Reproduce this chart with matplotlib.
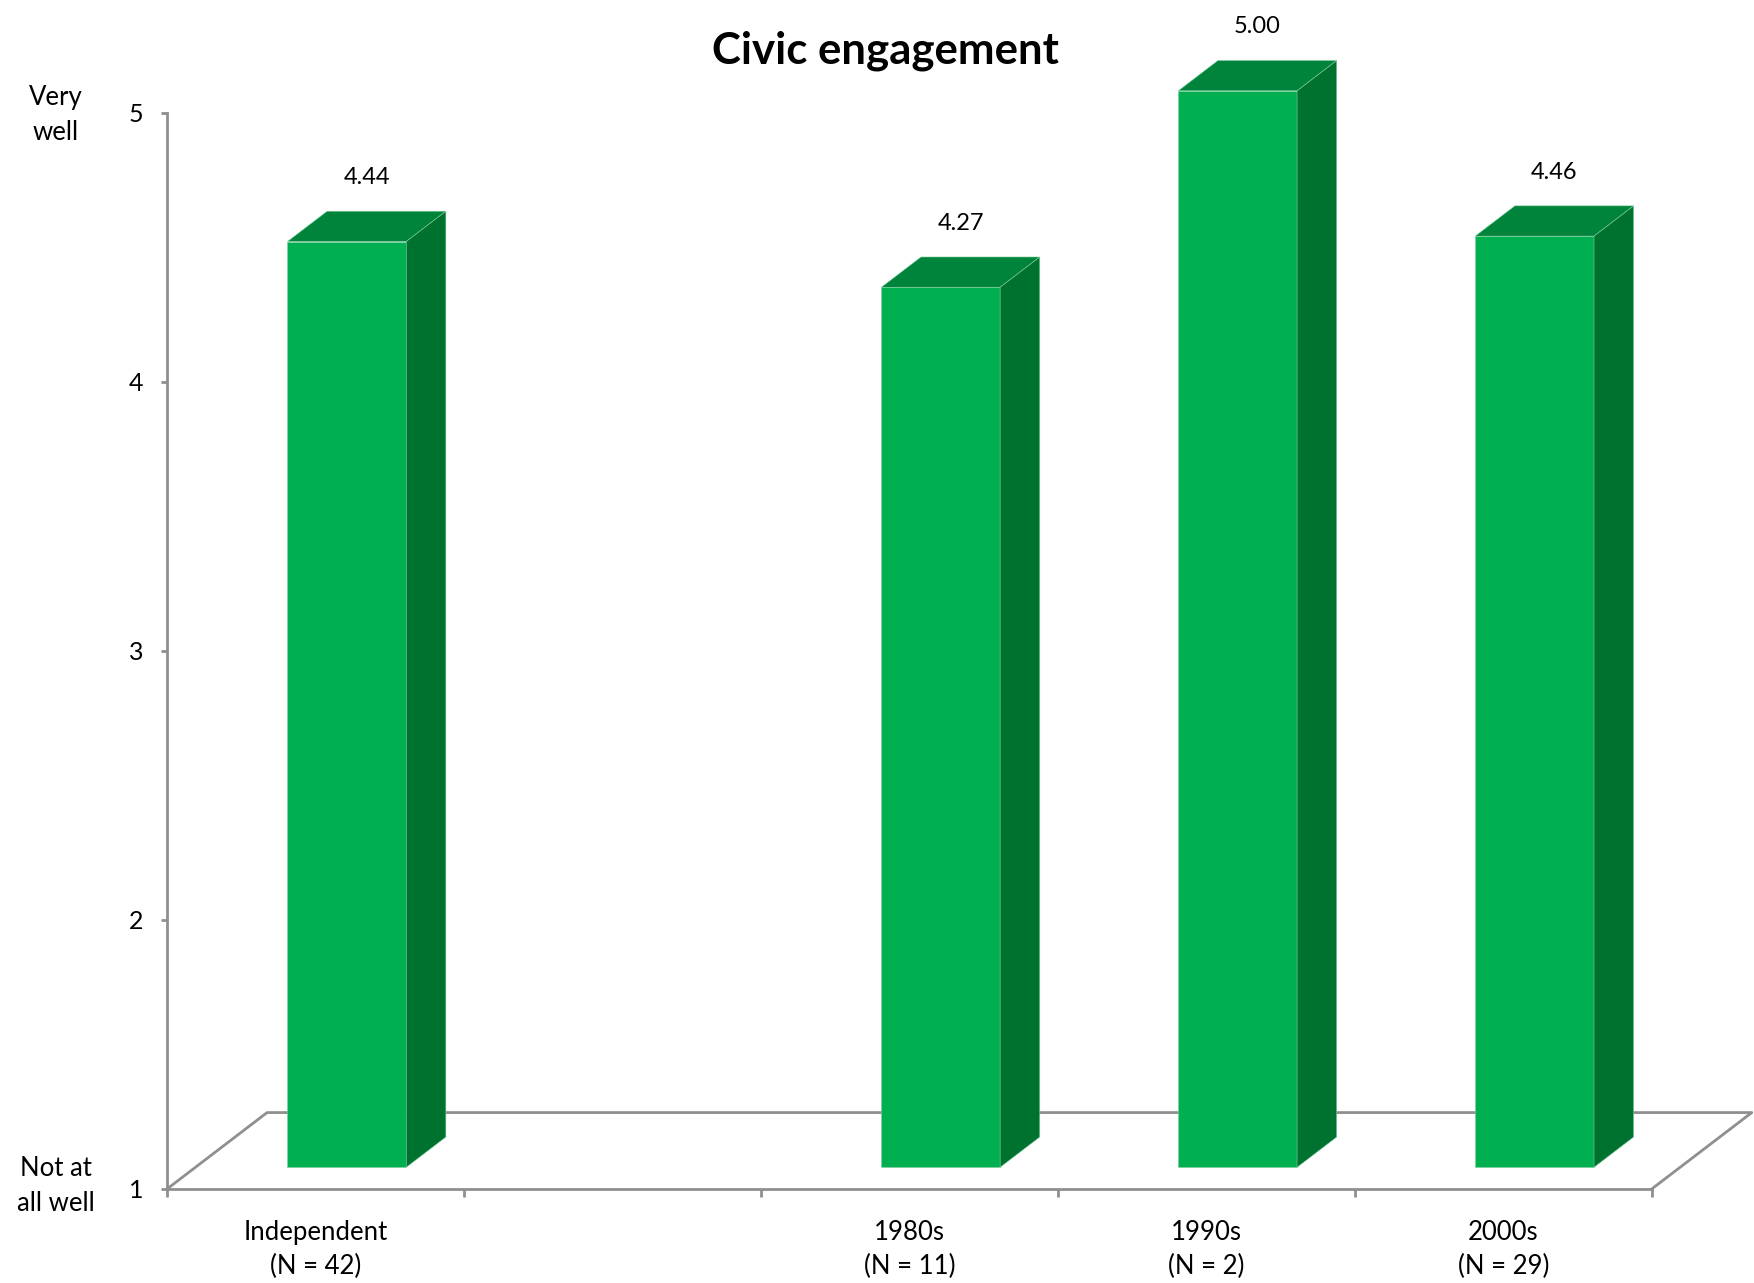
import numpy as np
import matplotlib.pyplot as plt
from matplotlib.patches import Polygon

plt.rcParams['font.family'] = ['Lato', 'DejaVu Sans']

# chart data
categories = ['Independent\n(N = 42)', '', '1980s\n(N = 11)', '1990s\n(N = 2)', '2000s\n(N = 29)']
values = [4.44, np.nan, 4.27, 5.00, 4.46]
value_labels = ['4.44', '', '4.27', '5.00', '4.46']
y_ticks = [1, 2, 3, 4, 5]

# fake 3d look: depth offset of the floor in data units
DX, DY = 0.337, 0.284
f0, f1 = 0.284, 0.68      # front and back of the bars as fraction of depth
bar_left, bar_w = 0.31, 0.40

front_c = '#00B050'
top_c = '#00843C'
side_c = '#00722F'
line_c = '#8F8F8F'

fig = plt.figure(figsize=(17.54, 12.83), dpi=100)
ax = fig.add_axes([167 / 1754, 1 - 1189 / 1283, (1651.7 - 167) / 1754, (1189 - 112.5) / 1283])
ax.set_xlim(0, len(categories))
ax.set_ylim(1, 5)

# floor
n = len(categories)
floor = [(0, 1), (DX, 1 + DY), (n + DX, 1 + DY), (n, 1)]
ax.plot(*zip(*floor), color=line_c, lw=2, clip_on=False, zorder=1)

a, b = f0 * DX, f0 * DY
c, d = f1 * DX, f1 * DY
for i, v in enumerate(values):
    if np.isnan(v):
        continue
    x0 = i + bar_left
    x1 = x0 + bar_w
    front = [(x0 + a, 1 + b), (x1 + a, 1 + b), (x1 + a, v + b), (x0 + a, v + b)]
    top = [(x0 + a, v + b), (x1 + a, v + b), (x1 + c, v + d), (x0 + c, v + d)]
    side = [(x1 + a, 1 + b), (x1 + c, 1 + d), (x1 + c, v + d), (x1 + a, v + b)]
    for pts, col in [(front, front_c), (top, top_c), (side, side_c)]:
        ax.add_patch(Polygon(pts, closed=True, facecolor=col, edgecolor='#7fcf9f',
                             lw=0.4, clip_on=False, zorder=3))
    ax.text(x0 + bar_w / 2 + (a + c) / 2, v + d + 0.125, value_labels[i],
            ha='center', va='center', fontsize=17, clip_on=False)

for s in ['top', 'right']:
    ax.spines[s].set_visible(False)
for s in ['left', 'bottom']:
    ax.spines[s].set_color(line_c)
    ax.spines[s].set_linewidth(2)

ax.set_yticks(y_ticks)
ax.set_yticklabels([str(t) for t in y_ticks])
ax.tick_params(axis='y', direction='out', length=4, width=2, color=line_c,
               labelsize=18, pad=13)

ax.set_xticks(np.arange(n + 1))
ax.set_xticklabels([])
ax.set_xticks(np.arange(n) + 0.5, minor=True)
ax.set_xticklabels(categories, minor=True, linespacing=1.45)
ax.tick_params(axis='x', which='major', direction='out', length=6, width=2, color=line_c)
ax.tick_params(axis='x', which='minor', length=0, labelsize=18.5, pad=22)

fig.text(0.505, 1 - 51 / 1283, 'Civic engagement', ha='center', va='center',
         fontsize=31.5, fontweight='bold')
fig.text(56 / 1754, 1 - 115 / 1283, 'Very\nwell', ha='center', va='center',
         fontsize=18.5, linespacing=1.5)
fig.text(56 / 1754, 1 - 1186 / 1283, 'Not at\nall well', ha='center', va='center',
         fontsize=18.5, linespacing=1.5)

fig.savefig('out.png', dpi=100, facecolor='white')
